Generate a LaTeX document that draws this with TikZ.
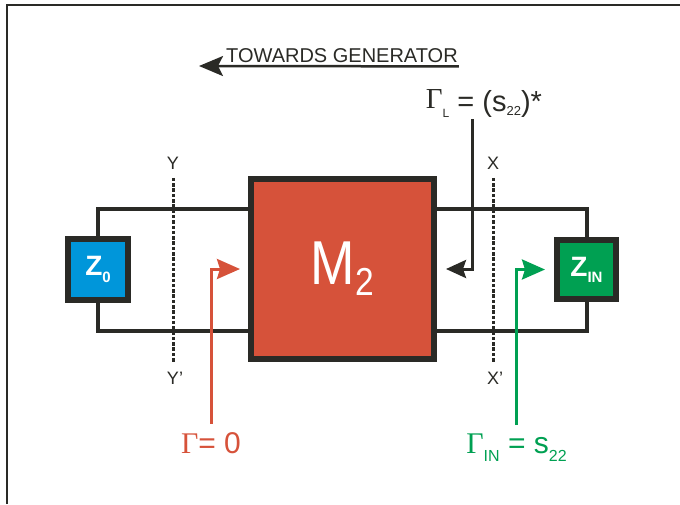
\documentclass[tikz,border=0pt]{standalone}
\usepackage{fontspec}
\setmainfont{Liberation Sans}
\newfontfamily\serifgreek{Liberation Serif}
\usepackage{graphicx}
\usepackage{xcolor}
\usetikzlibrary{arrows.meta}
\definecolor{myred}{RGB}{214, 82, 58}
\definecolor{myblue}{RGB}{0, 150, 218}
\definecolor{mygreen}{RGB}{0, 160, 82}
\definecolor{mydark}{RGB}{42, 42, 38}
\newcommand{\fsz}[1]{\fontsize{#1}{#1}\selectfont}
\newcommand{\lowsub}[3]{\raisebox{-#1}{\fsz{#2}#3}}
\newcommand{\Gam}{{\serifgreek Γ}}

\begin{document}
\begin{tikzpicture}[x=1pt,y=-1pt,
    box/.style={draw=mydark,line width=6pt,inner sep=0pt,text=white},
    wire/.style={mydark,line width=4pt},
    cut/.style={mydark,line width=3pt,dash pattern=on 3.5pt off 1.8pt},
    plane/.style={text=mydark,font=\fsz{18},inner sep=8.5pt},
    gamma/.style={anchor=base,inner xsep=2pt,inner ysep=8pt,font=\fsz{30}},
    pointer/.style={line width=3pt,-{Stealth[length=23pt,width=20pt,inset=3pt]}}]
  \useasboundingbox (0,0) rectangle (680,504);

  %Frame
  \draw[mydark,line width=2pt] (7,504) -- (7,5) -- (680,5);

  %Direction
  \node[anchor=base west,inner xsep=1pt,inner ysep=4pt,text=mydark,font=\fsz{20}] (tg) at (225,62) {TOWARDS GENERATOR};
  \coordinate (gen) at (199,66);
  \draw[mydark,line width=2.5pt,-{Stealth[length=24pt,width=20pt,inset=5pt]}] (tg.south east) -- (gen);

  %Two-port and terminations
  \node[box,fill=myred,minimum width=183pt,minimum height=180pt] (m2) at (342.5,269)
    {\scalebox{0.86}[1]{\fsz{62}M\lowsub{11pt}{39}{2}}};
  \node[box,fill=myblue,minimum width=60pt,minimum height=61pt] (z0) at (98,269.5)
    {\bfseries\fsz{28}Z\lowsub{7pt}{15}{0}};
  \node[box,fill=mygreen,minimum width=59pt,minimum height=59pt] (zin) at (586.5,269.5)
    {\bfseries\fsz{28}Z\lowsub{6pt}{15}{IN}};

  %Lines
  \coordinate (upper) at (0,208.5);
  \coordinate (lower) at (0,330.5);
  \draw[wire] (z0.north) |- (upper -| m2.west);
  \draw[wire] (z0.south) |- (lower -| m2.west);
  \draw[wire] (zin.north) |- (upper -| m2.east);
  \draw[wire] (zin.south) |- (lower -| m2.east);

  %Reference planes
  \node[plane] (ytop) at (173,163) {Y};
  \node[plane] (ybot) at (175,378) {Y’};
  \draw[cut] (ytop.south) -- (ytop.south |- ybot.north);
  \node[plane] (xtop) at (493,163) {X};
  \node[plane] (xbot) at (495,378) {X’};
  \draw[cut] (xtop.south) -- (xtop.south |- xbot.north);

  %Reflection coefficients
  \node[gamma,text=mydark,font=\fsz{29},inner ysep=2pt] (gl) at (484,111)
    {\raisebox{3pt}{\Gam}\lowsub{6pt}{12}{L} = (s\lowsub{4pt}{13}{22})*};
  \node[gamma,text=myred] (g0) at (211,453) {\Gam= 0};
  \node[gamma,text=mygreen] (gin) at (516.5,453) {\Gam\lowsub{8pt}{16}{IN} = s\lowsub{8pt}{16}{22}};
  \coordinate (glfoot) at (472,0);
  \draw[pointer,mydark,-{Stealth[length=20pt,width=18pt,inset=3pt]},shorten >=9pt] (glfoot |- gl.south) |- (m2.east);
  \draw[pointer,myred,shorten >=8pt] (g0.north) |- (m2.west);
  \draw[pointer,mygreen,shorten >=9pt] (gin.north) |- (zin.west);
\end{tikzpicture}
\end{document}
